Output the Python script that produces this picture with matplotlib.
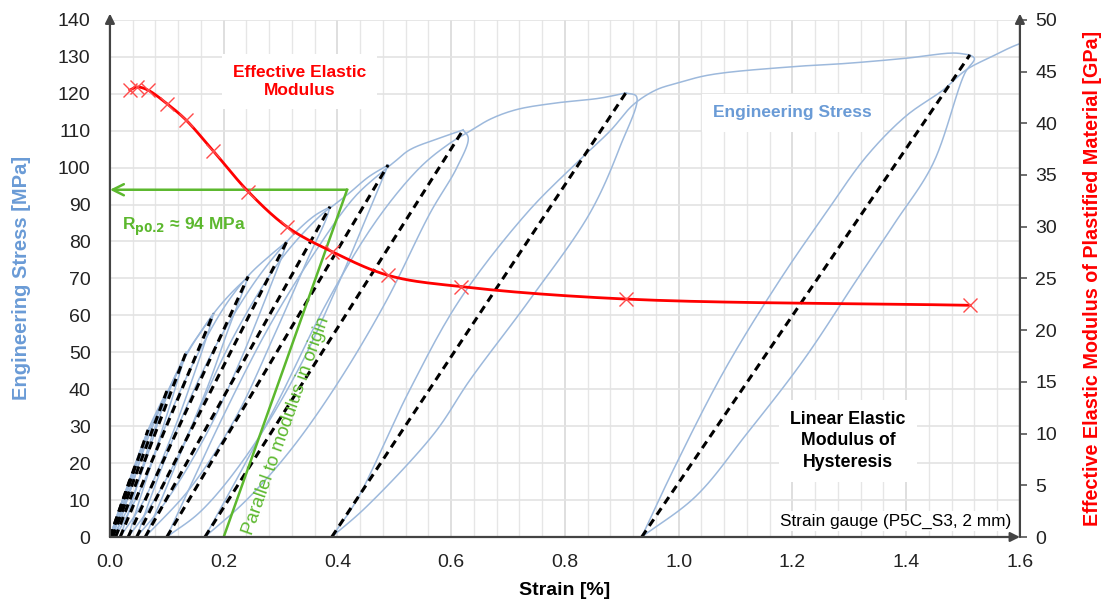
import numpy as np
import matplotlib
matplotlib.use("Agg")
import matplotlib.pyplot as plt

plt.rcParams['font.family'] = ['Liberation Sans', 'DejaVu Sans']

# peaks / residual strains of the hysteresis loops (dashed chords)
peak_strain = [0.035, 0.047, 0.067, 0.100, 0.134, 0.182, 0.243, 0.311, 0.387, 0.489, 0.621, 0.907, 1.512]
peak_stress = [15.5, 20.5, 29.0, 39.5, 50.0, 60.5, 70.5, 80.0, 89.4, 100.7, 110.2, 120.2, 130.5]
base_strain = [0.0, 0.0, 0.002, 0.005, 0.010, 0.018, 0.032, 0.047, 0.062, 0.100, 0.167, 0.390, 0.935]

# effective elastic modulus (right axis)
mod_strain = [0.035, 0.047, 0.067, 0.100, 0.134, 0.182, 0.243, 0.311, 0.390, 0.489, 0.618, 0.908, 1.512]
mod_gpa = [43.2, 43.5, 43.2, 41.9, 40.3, 37.3, 33.4, 30.0, 27.6, 25.3, 24.2, 23.0, 22.4]

# measured stress-strain path: first loading, then unloading / reloading branches
first_load = ([0.0, 0.015, 0.035], [0.0, 7.0, 15.5])

unload_curves = [
    ([0.035, 0.020, 0.0], [15.5, 7.0, 0.0]),
    ([0.047, 0.035, 0.015, 0.0], [20.5, 13.0, 5.0, 0.0]),
    ([0.067, 0.055, 0.030, 0.002], [29.0, 22.0, 10.0, 0.0]),
    ([0.100, 0.094, 0.070, 0.035, 0.005], [39.5, 36.0, 24.0, 9.0, 0.0]),
    ([0.134, 0.128, 0.100, 0.060, 0.010], [50.0, 47.0, 33.0, 15.0, 0.0]),
    ([0.182, 0.176, 0.150, 0.110, 0.060, 0.018], [60.5, 57.0, 45.0, 28.0, 10.0, 0.0]),
    ([0.243, 0.235, 0.210, 0.170, 0.120, 0.070, 0.032], [70.5, 67.0, 57.0, 40.0, 22.0, 8.0, 0.0]),
    ([0.311, 0.305, 0.280, 0.230, 0.170, 0.100, 0.047], [80.0, 77.0, 67.0, 48.0, 28.0, 10.0, 0.0]),
    ([0.387, 0.380, 0.350, 0.290, 0.220, 0.140, 0.062], [89.4, 86.0, 76.0, 55.0, 32.0, 13.0, 0.0]),
    ([0.489, 0.482, 0.455, 0.400, 0.330, 0.240, 0.160, 0.100], [100.7, 98.0, 88.0, 68.0, 45.0, 22.0, 7.0, 0.0]),
    ([0.621, 0.630, 0.610, 0.563, 0.487, 0.404, 0.320, 0.240, 0.167],
     [110.2, 108.0, 100.0, 87.7, 64.2, 42.5, 24.0, 10.0, 0.0]),
    ([0.907, 0.926, 0.897, 0.844, 0.738, 0.633, 0.570, 0.451, 0.390],
     [120.2, 119.2, 105.7, 87.7, 64.2, 42.5, 28.0, 8.2, 0.0]),
    ([1.512, 1.520, 1.503, 1.447, 1.380, 1.313, 1.220, 1.120, 1.030, 0.935],
     [130.5, 129.5, 125.5, 101.0, 85.0, 69.6, 48.0, 28.0, 11.0, 0.0]),
]

reload_curves = [
    ([0.0, 0.020, 0.047], [0.0, 9.0, 20.5]),
    ([0.0, 0.020, 0.045, 0.067], [0.0, 9.0, 20.0, 29.0]),
    ([0.002, 0.025, 0.050, 0.070, 0.100], [0.0, 11.0, 22.0, 30.0, 39.5]),
    ([0.005, 0.030, 0.070, 0.105, 0.134], [0.0, 12.0, 29.0, 40.5, 50.0]),
    ([0.010, 0.030, 0.070, 0.110, 0.140, 0.160, 0.182], [0.0, 10.0, 28.0, 42.0, 51.0, 55.5, 60.5]),
    ([0.018, 0.040, 0.080, 0.130, 0.180, 0.210, 0.243], [0.0, 10.0, 30.0, 48.0, 60.0, 65.5, 70.5]),
    ([0.032, 0.050, 0.090, 0.140, 0.200, 0.245, 0.280, 0.311], [0.0, 9.0, 27.0, 45.0, 62.0, 71.0, 76.0, 80.0]),
    ([0.047, 0.070, 0.120, 0.180, 0.250, 0.300, 0.330, 0.360, 0.387],
     [0.0, 10.0, 30.0, 50.0, 68.0, 78.0, 83.0, 87.0, 89.4]),
    ([0.062, 0.090, 0.150, 0.220, 0.300, 0.370, 0.395, 0.420, 0.455, 0.489],
     [0.0, 10.0, 32.0, 55.0, 75.0, 87.0, 90.0, 93.0, 97.5, 100.7]),
    ([0.100, 0.130, 0.200, 0.280, 0.360, 0.430, 0.480, 0.500, 0.527, 0.580, 0.621],
     [0.0, 10.0, 33.0, 57.0, 77.0, 92.0, 99.0, 101.5, 104.8, 108.0, 110.2]),
    ([0.167, 0.210, 0.290, 0.384, 0.470, 0.545, 0.595, 0.630, 0.670, 0.715, 0.780, 0.862, 0.907],
     [0.0, 12.0, 35.0, 64.2, 86.0, 100.0, 106.3, 109.6, 113.2, 115.7, 117.4, 118.8, 120.2]),
    ([0.390, 0.434, 0.527, 0.615, 0.733, 0.820, 0.880, 0.920, 0.960, 0.996, 1.055, 1.200, 1.295, 1.400, 1.483, 1.512],
     [0.0, 10.0, 39.8, 64.2, 87.7, 101.2, 110.0, 117.0, 121.0, 122.8, 125.1, 127.3, 128.2, 129.6, 131.0, 130.5]),
    ([0.935, 0.990, 1.080, 1.178, 1.260, 1.330, 1.400, 1.465, 1.506, 1.550, 1.594, 1.630],
     [0.0, 18.0, 45.0, 69.6, 88.0, 103.0, 114.0, 121.0, 126.5, 130.0, 133.2, 135.0]),
]

rp02_stress = 94
rp02_strain = 0.417
offset_strain = 0.2

blue = '#9db9dc'
blue_txt = '#6a9bd6'
green = '#5cb82e'
red = '#ff0000'


def smooth(x, y, n=14):
    # centripetal Catmull-Rom through the read points (display only)
    sx, sy = 568.75, 3.693
    P = np.column_stack([np.asarray(x) * sx, np.asarray(y) * sy])
    P = np.vstack([2 * P[0] - P[1], P, 2 * P[-1] - P[-2]])
    out = [P[1]]
    for i in range(1, len(P) - 2):
        p0, p1, p2, p3 = P[i - 1], P[i], P[i + 1], P[i + 2]
        d = lambda a, b: max(np.linalg.norm(b - a) ** 0.5, 1e-6)
        t0 = 0
        t1 = t0 + d(p0, p1)
        t2 = t1 + d(p1, p2)
        t3 = t2 + d(p2, p3)
        t = np.linspace(t1, t2, n)[1:, None]
        a1 = (t1 - t) / (t1 - t0) * p0 + (t - t0) / (t1 - t0) * p1
        a2 = (t2 - t) / (t2 - t1) * p1 + (t - t1) / (t2 - t1) * p2
        a3 = (t3 - t) / (t3 - t2) * p2 + (t - t2) / (t3 - t2) * p3
        b1 = (t2 - t) / (t2 - t0) * a1 + (t - t0) / (t2 - t0) * a2
        b2 = (t3 - t) / (t3 - t1) * a2 + (t - t1) / (t3 - t1) * a3
        c = (t2 - t) / (t2 - t1) * b1 + (t - t1) / (t2 - t1) * b2
        out.extend(c)
    out = np.array(out)
    return out[:, 0] / sx, out[:, 1] / sy


fig = plt.figure(figsize=(11.05, 6.0), dpi=100)
ax = fig.add_axes([0.0995, 0.105, 0.8235, 0.862])

ax.set_xlim(0, 1.6)
ax.set_ylim(0, 140)
ax.set_xticks(np.arange(0, 1.61, 0.2))
ax.set_xticklabels([f"{v:.1f}" for v in np.arange(0, 1.61, 0.2)])
ax.set_yticks(np.arange(0, 141, 10))
ax.set_xticks(np.arange(0, 1.61, 0.04), minor=True)
ax.grid(which='minor', axis='x', color='#e6e6e6', lw=1.0, zorder=0)
ax.grid(which='major', axis='x', color='#d9d9d9', lw=1.2, zorder=0)
ax.grid(which='major', axis='y', color='#e3e3e3', lw=1.2, zorder=0)
ax.tick_params(which='both', length=0, labelsize=14, colors='#222222')
ax.tick_params(axis='y', pad=14)
ax.tick_params(axis='x', pad=12)
ax.set_axisbelow(True)
for s in ax.spines.values():
    s.set_visible(False)

# blue hysteresis path
xs, ys = smooth(*first_load)
ax.plot(xs, ys, color=blue, lw=1.1, zorder=3)
for cx, cy in unload_curves + reload_curves:
    xs, ys = smooth(cx, cy)
    ax.plot(xs, ys, color=blue, lw=1.1, zorder=3, clip_on=True)

# dashed chords
for b, p, s in zip(base_strain, peak_strain, peak_stress):
    ax.plot([b, p], [0, s], color='black', lw=2.2, ls=(0, (2.6, 1.8)), zorder=4)

# green Rp0.2 construction
ax.plot([offset_strain, rp02_strain], [0, rp02_stress], color=green, lw=1.8, zorder=5)
ax.annotate('', xy=(0.0, rp02_stress), xytext=(rp02_strain, rp02_stress),
            arrowprops=dict(arrowstyle='->', color=green, lw=1.8, mutation_scale=20,
                            shrinkA=0, shrinkB=0), zorder=5)
ax.text(0.022, 84, r'R$_{\mathbf{p0.2}}$ ≈ 94 MPa', color=green, fontsize=12.5,
        fontweight='bold', va='center', ha='left', zorder=6)
ax.text(0.31, 30, 'Parallel to modulus in origin', color=green, fontsize=13.5,
        rotation=70.5, rotation_mode='anchor', ha='center', va='center', zorder=6)

# annotations with white boxes
box = dict(facecolor='white', edgecolor='none', pad=8)
ax.text(0.333, 123.3, 'Effective Elastic\nModulus', color=red, fontsize=12.5, fontweight='bold',
        ha='center', va='center', linespacing=1.3, bbox=box, zorder=2)
ax.text(1.2, 114.8, 'Engineering Stress', color=blue_txt, fontsize=12.5, fontweight='bold',
        ha='center', va='center', bbox=box, zorder=2)
ax.text(1.298, 26.0, 'Linear Elastic\nModulus of\nHysteresis', color='black', fontsize=12.8,
        fontweight='bold', ha='center', va='center', linespacing=1.35, bbox=box, zorder=2)
ax.text(1.585, 4.3, 'Strain gauge (P5C_S3, 2 mm)', color='black', fontsize=12.4,
        ha='right', va='center', bbox=dict(facecolor='white', edgecolor='none', pad=2), zorder=2)

ax.set_xlabel('Strain [%]', fontsize=14, fontweight='bold', labelpad=8)
ax.set_ylabel('Engineering Stress [MPa]', fontsize=14.5, fontweight='bold', color=blue_txt, labelpad=19)

# right axis: effective modulus
ax2 = ax.twinx()
ax2.set_ylim(0, 50)
ax2.set_yticks(np.arange(0, 51, 5))
ax2.tick_params(axis='y', direction='out', length=5, width=1.2, color='#555555',
                labelsize=14, labelcolor='#222222', pad=6)
for s in ax2.spines.values():
    s.set_visible(False)
ax2.set_ylabel('Effective Elastic Modulus of Plastified Material [GPa]', fontsize=14.2,
               fontweight='bold', color=red, labelpad=19)
xs, ys = smooth(mod_strain, mod_gpa, n=20)
ax2.plot(xs, ys, color=red, lw=2.0, zorder=6)
ax2.plot(mod_strain, mod_gpa, ls='none', marker='x', ms=10, mew=1.0, color='#ff4a4a', zorder=7)

# axis lines with arrow heads
arrow = dict(arrowstyle='-|>', color='#444444', lw=1.6, mutation_scale=14, shrinkA=0, shrinkB=0)
for start, end in [((0, 0), (0, 1.012)), ((1, 0), (1, 1.012)), ((0, 0), (1.0, 0))]:
    ax2.annotate('', xy=end, xytext=start, xycoords='axes fraction', textcoords='axes fraction',
                 arrowprops=arrow, annotation_clip=False)

fig.savefig('out.png', dpi=100)
